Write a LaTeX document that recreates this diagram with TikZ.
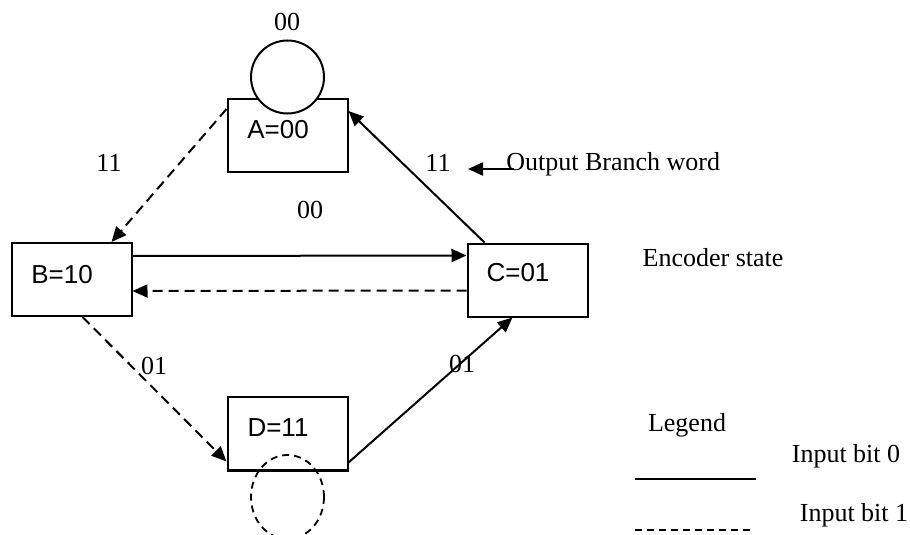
\documentclass[tikz,border=0pt]{standalone}
\usepackage{fontspec}
\setmainfont{Liberation Serif}
\setsansfont{Liberation Sans}
\usetikzlibrary{arrows.meta,calc,shapes.geometric}
\begin{document}
\begin{tikzpicture}[x=0.5pt,y=-0.5pt,
  statebox/.style={draw, line width=1pt, minimum width=60pt, minimum height=36.5pt, inner sep=0pt},
  boxtext/.style={font=\sffamily\fontsize{13}{15}\selectfont, inner sep=0pt},
  lbl/.style={font=\fontsize{13}{15}\selectfont, inner sep=0pt},
  arr/.style={line width=1pt, -{Triangle[length=7.5pt,width=6.5pt]}},
  dsh/.style={dash pattern=on 5pt off 3pt},
  loopc/.style={draw, line width=1pt, circle, minimum size=36.5pt, inner sep=0pt}]
\useasboundingbox (0,0) rectangle (910,535);

% state boxes
\node[statebox] (A) at (287.5,135.5) {};
\node[statebox] (B) at (71.5,279.5) {};
\node[statebox] (C) at (527.5,280) {};
\node[statebox] (D) at (287.5,433) {};
\node[boxtext] (At) at (278,130) {A=00};
\node[boxtext] (Bt) at (62,275) {B=10};
\node[boxtext] (Ct) at (518,273) {C=01};
\node[boxtext] (Dt) at (278,428) {D=11};

% self loops
\node[loopc, fill=white] (LA) at (287.5,77) {};
\node[draw, line width=0.9pt, dash pattern=on 3.5pt off 2.5pt, ellipse, minimum width=36.5pt, minimum height=42pt, inner sep=0pt] (LD) at (287.5,497) {};
\draw[line width=1pt] (D.south west) -- (D.south east);

% transitions
\draw[arr, dsh] ($(A.north west)+(0,11)$) -- ($(B.north west)+(101,0)$);
\draw[arr] ($(C.north west)+(18,0)$) -- ($(A.north east)+(0,13)$);
\draw[arr] ($(B.north east)+(0,14)$) -- ($(C.north west)+(0,13)$);
\draw[arr, dsh] ($(C.north west)+(0,48)$) -- ($(B.north east)+(0,49)$);
\draw[arr, dsh] ($(B.south west)+(72,0)$) -- ($(D.south west)+(0,-9)$);
\draw[arr] ($(D.south east)+(0,-8)$) -- ($(C.south west)+(46,0)$);

% labels
\node[lbl] (l00a) at (287,22) {00};
\node[lbl] (l11a) at (109,163) {11};
\node[lbl] (l00b) at (310,210) {00};
\node[lbl] (l11b) at (438,163) {11};
\node[lbl, anchor=west] (obw) at (506,164) {Output Branch word};
\coordinate (obwend) at (468,169);
\draw[arr] (obw.west |- obwend) ++(8,0) -- (obwend);
\node[lbl] (l01a) at (154,366) {01};
\node[lbl] (l01b) at (462,364) {01};
\node[lbl] (enc) at (713,258) {Encoder state};

% legend
\node[lbl] (leg) at (687,425) {Legend};
\node[lbl] (in0) at (846,456) {Input bit 0};
\node[lbl] (in1) at (854,515) {Input bit 1};
\coordinate (s0a) at (635,479);
\coordinate (s0b) at (756,479);
\coordinate (s1a) at (635,530);
\coordinate (s1b) at (753,530);
\draw[line width=1pt] (s0a) -- (s0b);
\draw[line width=0.8pt, dash pattern=on 3.3pt off 2.7pt] (s1a) -- (s1b);
\end{tikzpicture}
\end{document}
